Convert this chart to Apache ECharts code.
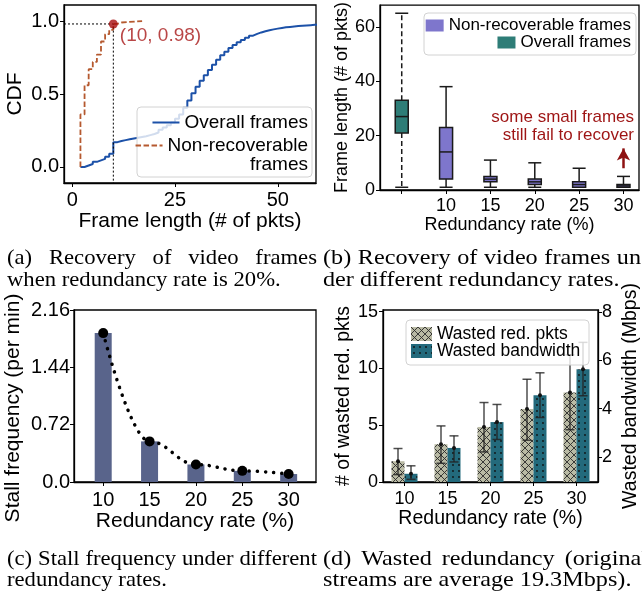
<!DOCTYPE html>
<html>
<head>
<meta charset="utf-8">
<script src="https://cdn.jsdelivr.net/npm/echarts@6/dist/echarts.min.js"></script>
<style>
  html, body { margin: 0; padding: 0; background: #fff; }
  #chart { width: 642px; height: 601px; }
</style>
</head>
<body>
<div id="chart"></div>
<script>
  // (a) CDF of frame length at 20% redundancy
  const cdfAllX = [2,3,4,5,6,7,8,9,10,11,12,13,14,15,16,17,18,19,20,21,22,23,24,25,26,27,28,29,30,
    31,32,33,34,35,36,37,38,39,40,41,42,43,44,45,46,47,48,49,50,51,52,53,54,55,56,57,58,59,60];
  const cdfAllY = [0,0.01,0.02,0.035,0.045,0.055,0.07,0.09,0.17,0.178,0.184,0.19,0.195,0.2,0.205,0.21,
    0.218,0.226,0.236,0.255,0.27,0.285,0.305,0.33,0.36,0.405,0.455,0.505,0.55,0.59,0.628,0.665,0.7,
    0.735,0.765,0.79,0.815,0.835,0.855,0.87,0.885,0.9,0.912,0.922,0.93,0.937,0.943,0.948,0.953,0.957,
    0.96,0.963,0.966,0.968,0.97,0.972,0.974,0.976,0.978];
  const cdfLostX = [2,2,3,4,5,6,7,8,9,10,11,12,17];
  const cdfLostY = [0,0.36,0.56,0.67,0.72,0.77,0.86,0.91,0.94,0.98,0.99,1.0,1.0];
  const markPt = [10, 0.98];

  // (b) box stats: [min, q1, median, q3, max]
  const boxRates = ['', '10', '15', '20', '25', '30'];
  const boxOverall = [1, 21, 27, 33, 65];
  const boxLost = [[1,4,14,23,38], [1,3,4,5,11], [1,2,3,4,10], [1,1,2,3,8], [1,1,1.5,2,5]];
  const arrowFrom = [5, 8];
  const arrowTo = [5, 15.3];

  // (c) stall frequency
  const stallRates = [10, 15, 20, 25, 30];
  const stallFreq = [1.87, 0.51, 0.22, 0.14, 0.1];

  // (d) wasted redundancy
  const wasteRates = ['10', '15', '20', '25', '30'];
  const wastePkts = [1.83, 3.33, 4.85, 6.42, 7.89];
  const wastePktsLow = [0.65, 1.65, 2.65, 3.68, 4.6];
  const wastePktsHigh = [2.95, 4.94, 7.0, 9.05, 11.2];
  const wasteBw = [1.3, 2.37, 3.44, 4.55, 5.63];
  const wasteBwLow = [1.07, 1.79, 2.72, 3.63, 4.53];
  const wasteBwHigh = [1.63, 2.87, 4.17, 5.48, 6.74];

  const FONT = '"Liberation Sans", Arial, sans-serif';
  const SERIF = '"Liberation Serif", "Times New Roman", serif';

  function pattern(bg, draw, size) {
    const c = document.createElement('canvas');
    c.width = size; c.height = size;
    const g = c.getContext('2d');
    g.fillStyle = bg;
    g.fillRect(0, 0, size, size);
    draw(g, size);
    return { image: c, repeat: 'repeat' };
  }
  const hatch = pattern('#b9baa4', function (g, s) {
    g.strokeStyle = '#2a2a2a'; g.lineWidth = 0.9;
    g.beginPath(); g.moveTo(0, 0); g.lineTo(s, s); g.moveTo(s, 0); g.lineTo(0, s); g.stroke();
  }, 7);
  const dots = pattern('#236a7c', function (g, s) {
    g.fillStyle = '#111';
    g.beginPath(); g.arc(s / 2, s / 2, 0.9, 0, Math.PI * 2); g.fill();
  }, 6);

  function axis(o) {
    const lab = { color: '#000', fontFamily: FONT, fontSize: o.fs || 20, margin: o.margin || 6 };
    if (o.values) lab.customValues = o.values;
    if (o.fmt) lab.formatter = o.fmt;
    const tick = { show: true, inside: false, length: 4, lineStyle: { color: '#000' } };
    if (o.values) tick.customValues = o.values;
    if (o.align) tick.alignWithLabel = true;
    return Object.assign({
      gridIndex: o.grid,
      type: o.type || 'value',
      min: o.min, max: o.max,
      name: o.name, nameLocation: 'middle', nameGap: o.gap,
      nameRotate: o.rotate,
      nameTextStyle: { color: '#000', fontFamily: FONT, fontSize: o.nfs || 21, padding: o.npad || 0 },
      axisLine: { show: true, onZero: false, lineStyle: { color: '#000', width: 1.3 } },
      axisTick: tick,
      axisLabel: lab,
      splitLine: { show: false }
    }, o.extra || {});
  }

  function boxItem(dashed) {
    return function (params, api) {
      const x = api.value(0);
      const pt = function (d) { return api.coord([x, api.value(d)]); };
      const lo = pt(1), q1 = pt(2), md = pt(3), q3 = pt(4), hi = pt(5);
      const cx = lo[0], w = 6.5;
      const edge = { stroke: '#1a1a1a', lineWidth: 1.5 };
      const whisk = dashed ? { stroke: '#1a1a1a', lineWidth: 1.5, lineDash: [5, 3] } : edge;
      return { type: 'group', children: [
        { type: 'line', shape: { x1: cx, y1: q1[1], x2: cx, y2: lo[1] }, style: whisk },
        { type: 'line', shape: { x1: cx, y1: q3[1], x2: cx, y2: hi[1] }, style: whisk },
        { type: 'line', shape: { x1: cx - w, y1: lo[1], x2: cx + w, y2: lo[1] }, style: edge },
        { type: 'line', shape: { x1: cx - w, y1: hi[1], x2: cx + w, y2: hi[1] }, style: edge },
        { type: 'rect', shape: { x: cx - w, y: q3[1], width: 2 * w, height: q1[1] - q3[1] },
          style: { fill: api.visual('color'), stroke: '#1a1a1a', lineWidth: 1.5 } },
        { type: 'line', shape: { x1: cx - w, y1: md[1], x2: cx + w, y2: md[1] }, style: edge }
      ] };
    };
  }

  function errItem(offset) {
    return function (params, api) {
      const i = api.value(0);
      const lo = api.coord([i, api.value(1)]);
      const hi = api.coord([i, api.value(2)]);
      const mid = api.coord([i, api.value(3)]);
      const x = lo[0] + offset, cap = 4.5;
      const st = { stroke: '#222', lineWidth: 1.5, opacity: 0.8 };
      return { type: 'group', children: [
        { type: 'line', shape: { x1: x, y1: lo[1], x2: x, y2: hi[1] }, style: st },
        { type: 'line', shape: { x1: x - cap, y1: hi[1], x2: x + cap, y2: hi[1] }, style: st },
        { type: 'line', shape: { x1: x - cap, y1: lo[1], x2: x + cap, y2: lo[1] }, style: st },
        { type: 'circle', shape: { cx: x, cy: mid[1], r: 2 }, style: { fill: '#111' } }
      ] };
    };
  }

  const legendText = function (fs) { return { color: '#000', fontFamily: FONT, fontSize: fs }; };
  const legendBox = function (x, y, w, h) {
    return { type: 'rect', z: 4, shape: { x: x, y: y, width: w, height: h, r: 4 },
      style: { fill: 'rgba(255,255,255,0.8)', stroke: '#d2d2d2', lineWidth: 1 } };
  };
  const txt = function (s, x, y, font, color, align, sx) {
    return { type: 'text', z: 6, x: x, y: y, scaleX: sx || 1,
      style: { text: s, font: font, fill: color || '#000', align: align || 'left', verticalAlign: 'middle', lineHeight: 18 } };
  };

  // caption first lines are justified between x0 and x1
  const ruler = document.createElement('canvas').getContext('2d');
  function justify(words, x0, x1, y, font, sx) {
    ruler.font = font;
    const w = words.map(function (s) { return ruler.measureText(s).width * sx; });
    const gap = Math.max(4, (x1 - x0 - w.reduce(function (a, b) { return a + b; }, 0)) / (words.length - 1));
    let x = x0;
    return words.map(function (s, i) {
      const el = txt(s, x, y, font, '#000', 'left', sx);
      x += w[i] + gap;
      return el;
    });
  }
  // the right-hand captions come out a little larger than the left ones
  const CAP = '22px ' + SERIF;
  const SX_L = 1.03, SX_R = 1.1;

  const chart = echarts.init(document.getElementById('chart'));
  chart.setOption({
    animation: false,
    grid: [
      { left: 64, top: 5, width: 252, height: 178 },
      { left: 380, top: 5, width: 259, height: 185 },
      { left: 74, top: 310, width: 242, height: 172 },
      { left: 383, top: 310, width: 227, height: 172 }
    ].map(function (g) {
      return Object.assign(g, { show: true, borderColor: '#000', borderWidth: 1.3, backgroundColor: 'transparent' });
    }),
    xAxis: [
      axis({ grid: 0, min: -2, max: 59.3, values: [0, 25, 50], name: 'Frame length (# of pkts)', gap: 26, margin: 7 }),
      axis({ grid: 1, min: -0.49, max: 5.35, values: [0, 1, 2, 3, 4, 5], fs: 18, nfs: 18, margin: 7,
        fmt: function (v) { return boxRates[Math.round(v)]; }, name: 'Redundancy rate (%)', gap: 22 }),
      axis({ grid: 2, min: 6.85, max: 32.95, values: stallRates, name: 'Redundancy rate (%)', gap: 22, margin: 8 }),
      axis({ grid: 3, type: 'category', align: true, fs: 18, nfs: 19.5, margin: 8,
        name: 'Redundancy rate (%)', gap: 23, extra: { data: wasteRates, boundaryGap: true } })
    ],
    yAxis: [
      axis({ grid: 0, min: -0.11, max: 1.11, values: [0, 0.5, 1], margin: 5,
        fmt: function (v) { return v.toFixed(1); }, name: 'CDF', gap: 38, rotate: 90 }),
      axis({ grid: 1, min: 0, max: 68, values: [0, 20, 40, 60], fs: 18, nfs: 18, margin: 5,
        name: 'Frame length (# of pkts)', gap: 25, rotate: 90 }),
      axis({ grid: 2, min: 0, max: 2.16, margin: 4, name: 'Stall frequency (per min)', gap: 50, rotate: 90,
        npad: [0, 24, 0, 0],
        fmt: function (v) { return v === 0 ? '0.0' : v.toFixed(2); }, extra: { interval: 0.72 } }),
      axis({ grid: 3, min: 0, max: 15.15, values: [0, 5, 10, 15], fs: 18, nfs: 19.5, margin: 5,
        name: '# of wasted red. pkts', gap: 29, rotate: 90 }),
      axis({ grid: 3, min: 0.96, max: 8.08, values: [2, 4, 6, 8], fs: 18, nfs: 19.5, margin: 4,
        name: 'Wasted bandwidth (Mbps)', gap: 23, rotate: 90, extra: { position: 'right' } })
    ],
    legend: [
      { data: ['Overall frames'], right: 334, top: 113, padding: 0, itemWidth: 27, itemHeight: 14, z: 5,
        itemStyle: { opacity: 0 }, textStyle: legendText(19) },
      { data: ['Non-recoverable frames'], right: 334, top: 136, padding: 0, itemWidth: 27, itemHeight: 14, z: 5,
        itemStyle: { opacity: 0 }, formatter: function () { return 'Non-recoverable'; }, textStyle: legendText(19) },
      { data: ['Non-recoverable'], right: 11, top: 17, padding: 0, icon: 'rect', itemWidth: 18, itemHeight: 12, z: 5,
        formatter: function () { return 'Non-recoverable frames'; }, textStyle: legendText(17) },
      { data: ['Overall'], right: 11, top: 34, padding: 0, icon: 'rect', itemWidth: 18, itemHeight: 12, z: 5,
        formatter: function () { return 'Overall frames'; }, textStyle: legendText(17) },
      { data: ['Wasted red. pkts'], left: 411, top: 325, padding: 0, icon: 'rect', itemWidth: 21, itemHeight: 14, z: 5,
        textStyle: legendText(17.5) },
      { data: ['Wasted bandwidth'], left: 411, top: 342, padding: 0, icon: 'rect', itemWidth: 21, itemHeight: 14, z: 5,
        textStyle: legendText(17.5) }
    ],
    series: [
      // (a)
      { name: 'Overall frames', type: 'line', xAxisIndex: 0, yAxisIndex: 0, step: 'end', symbol: 'none',
        data: cdfAllX.map(function (x, i) { return [x, cdfAllY[i]]; }),
        lineStyle: { color: '#1c51a8', width: 2 }, itemStyle: { color: '#1c51a8' } },
      { name: 'Non-recoverable frames', type: 'line', xAxisIndex: 0, yAxisIndex: 0, step: 'end', symbol: 'none',
        data: cdfLostX.map(function (x, i) { return [x, cdfLostY[i]]; }),
        lineStyle: { color: '#b5592f', width: 1.8, type: [5.5, 2.5] }, itemStyle: { color: '#b5592f' } },
      { name: 'ref', type: 'line', xAxisIndex: 0, yAxisIndex: 0, symbol: 'none', silent: true,
        data: [[-2, markPt[1]], markPt, [markPt[0], -0.11]],
        lineStyle: { color: '#000', width: 1, type: [2, 2] } },
      { name: 'point', type: 'scatter', xAxisIndex: 0, yAxisIndex: 0, symbolSize: 9, z: 4,
        data: [markPt], itemStyle: { color: '#a80d0d' },
        label: { show: true, position: 'right', distance: 2, offset: [0, 12], color: '#a81818',
          fontFamily: FONT, fontSize: 19, formatter: '(' + markPt[0] + ', ' + markPt[1] + ')' } },
      // (b)
      { name: 'Overall', type: 'custom', xAxisIndex: 1, yAxisIndex: 1, renderItem: boxItem(true),
        itemStyle: { color: '#2e7d77' }, encode: { x: 0, y: [1, 2, 3, 4, 5] },
        data: [[0].concat(boxOverall)] },
      { name: 'Non-recoverable', type: 'custom', xAxisIndex: 1, yAxisIndex: 1, renderItem: boxItem(false),
        itemStyle: { color: '#7e76cc' }, encode: { x: 0, y: [1, 2, 3, 4, 5] },
        data: boxLost.map(function (s, i) { return [i + 1].concat(s); }),
        markLine: { silent: true, symbol: ['none', 'arrow'], symbolSize: [10, 12], label: { show: false },
          lineStyle: { color: '#8e1212', width: 2.5, type: 'solid' },
          data: [[{ coord: arrowFrom }, { coord: arrowTo }]] } },
      // (c)
      { name: 'stall', type: 'bar', xAxisIndex: 2, yAxisIndex: 2, barWidth: 17,
        data: stallRates.map(function (r, i) { return [r, stallFreq[i]]; }), itemStyle: { color: '#59648b' } },
      { name: 'stallFit', type: 'line', xAxisIndex: 2, yAxisIndex: 2, smooth: 0.4, smoothMonotone: 'x',
        symbol: 'circle', symbolSize: 10, z: 3,
        data: stallRates.map(function (r, i) { return [r, stallFreq[i]]; }),
        itemStyle: { color: '#000' }, lineStyle: { color: '#000', width: 3.5, type: [0.1, 8], cap: 'round' } },
      // (d)
      { name: 'Wasted red. pkts', type: 'bar', xAxisIndex: 3, yAxisIndex: 3, barWidth: 13, barGap: '0%',
        data: wastePkts, itemStyle: { color: hatch } },
      { name: 'Wasted bandwidth', type: 'bar', xAxisIndex: 3, yAxisIndex: 4, barWidth: 13, barGap: '0%',
        data: wasteBw, itemStyle: { color: dots } },
      { name: 'pktsErr', type: 'custom', xAxisIndex: 3, yAxisIndex: 3, renderItem: errItem(-6.5), z: 3,
        encode: { x: 0, y: [1, 2, 3] },
        data: wastePkts.map(function (v, i) { return [i, wastePktsLow[i], wastePktsHigh[i], v]; }) },
      { name: 'bwErr', type: 'custom', xAxisIndex: 3, yAxisIndex: 4, renderItem: errItem(6.5), z: 3,
        encode: { x: 0, y: [1, 2, 3] },
        data: wasteBw.map(function (v, i) { return [i, wasteBwLow[i], wasteBwHigh[i], v]; }) }
    ],
    graphic: [
      legendBox(137, 107, 175, 70),
      legendBox(424, 13, 212, 42),
      legendBox(406, 320, 183, 45),
      txt('frames', 308, 165, '19px ' + FONT, '#000', 'right'),
      txt('some small frames\nstill fail to recover', 634, 126, '17px ' + FONT, '#9e1414', 'right')
    ].concat(
      justify(['(a)', 'Recovery', 'of', 'video', 'frames'], 7, 317, 258, CAP, SX_L),
      [txt('when redundancy rate is 20%.', 7, 280, CAP, '#000', 'left', SX_L)],
      justify(['(b)', 'Recovery', 'of', 'video', 'frames', 'un'], 323, 641, 258, CAP, SX_R),
      [txt('der different redundancy rates.', 323, 280, CAP, '#000', 'left', SX_R)],
      justify(['(c)', 'Stall', 'frequency', 'under', 'different'], 7, 317, 559, CAP, SX_L),
      [txt('redundancy rates.', 7, 580, CAP, '#000', 'left', SX_L)],
      justify(['(d)', 'Wasted', 'redundancy', '(original'], 323, 648, 559, CAP, SX_R),
      [txt('streams are average 19.3Mbps).', 323, 580, CAP, '#000', 'left', SX_R)]
    )
  });
</script>
</body>
</html>
